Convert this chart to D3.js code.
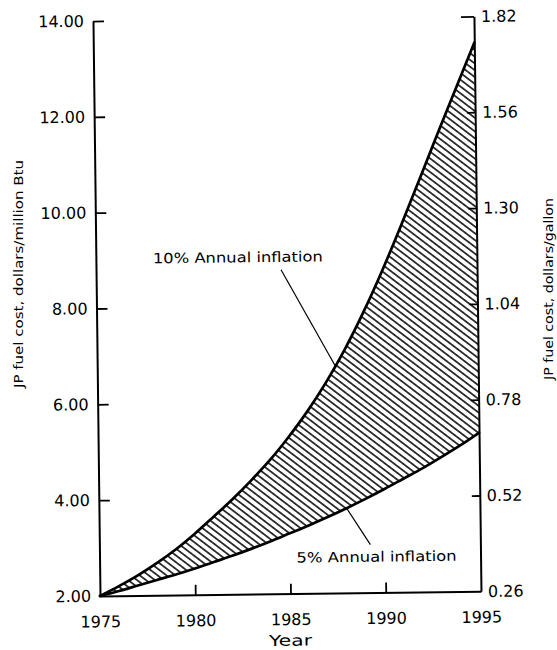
<!DOCTYPE html>
<html>
<head>
<meta charset="utf-8">
<script src="https://cdn.jsdelivr.net/npm/d3@7"></script>
<style>
  body { margin: 0; background: #fff; }
  text { font-family: "DejaVu Sans", sans-serif; fill: #000; }
</style>
</head>
<body>
<svg id="chart" width="557" height="650"></svg>
<script>
// Projected JP fuel cost, dollars per million Btu
const years = [1975, 1976, 1977, 1978, 1979, 1980, 1981, 1982, 1983, 1984, 1985,
               1986, 1987, 1988, 1989, 1990, 1991, 1992, 1993, 1994, 1995];
const inflation10 = [2.00, 2.20, 2.42, 2.67, 2.95, 3.27, 3.62, 3.98, 4.37, 4.79, 5.27,
                     5.80, 6.40, 7.08, 7.85, 8.70, 9.62, 10.58, 11.55, 12.50, 13.45];
const inflation5  = [2.00, 2.10, 2.21, 2.32, 2.43, 2.55, 2.68, 2.81, 2.95, 3.10, 3.26,
                     3.42, 3.59, 3.77, 3.96, 4.16, 4.37, 4.58, 4.81, 5.05, 5.31];

const yearTicks   = [1975, 1980, 1985, 1990, 1995];
const btuTicks    = [2, 4, 6, 8, 10, 12, 14];
const gallonTicks = [0.26, 0.52, 0.78, 1.04, 1.30, 1.56, 1.82];

const labelHigh = "10% Annual inflation";
const labelLow  = "5% Annual inflation";
const xTitle = "Year";
const yTitleLeft  = "JP fuel cost, dollars/million Btu";
const yTitleRight = "JP fuel cost, dollars/gallon";

const rows = years.map((yr, i) => ({ year: yr, high: inflation10[i], low: inflation5[i] }));

const svg = d3.select("#chart");
const W = 381, H = 575;

// hatch pattern for the band between the two projections
const defs = svg.append("defs");
defs.append("pattern")
    .attr("id", "hatch")
    .attr("patternUnits", "userSpaceOnUse")
    .attr("width", 20).attr("height", 5.4)
    .attr("patternTransform", "rotate(38)")
  .append("line")
    .attr("x1", 0).attr("x2", 20)
    .attr("y1", 2.7).attr("y2", 2.7)
    .attr("stroke", "#000").attr("stroke-width", 1.5);

// plot frame, origin at the lower-left corner, slightly tilted like the printed sheet
const g = svg.append("g").attr("transform", "translate(100,596) rotate(-0.7)");

const x  = d3.scaleLinear().domain([1975, 1995]).range([0, W]);
const y  = d3.scaleLinear().domain([2, 14]).range([0, -H]);
const yr = d3.scaleLinear().domain([0.26, 1.82]).range([0, -H]);

// shaded band
g.append("path")
  .datum(rows)
  .attr("fill", "url(#hatch)")
  .attr("d", d3.area()
      .x(d => x(d.year)).y0(d => y(d.low)).y1(d => y(d.high))
      .curve(d3.curveMonotoneX));

// the two inflation curves
const line = key => d3.line().x(d => x(d.year)).y(d => y(d[key])).curve(d3.curveMonotoneX);
["high", "low"].forEach(k => {
  g.append("path").datum(rows)
    .attr("fill", "none").attr("stroke", "#000")
    .attr("stroke-width", 2.7).attr("stroke-linejoin", "round").attr("stroke-linecap", "round")
    .attr("d", line(k));
});

function styleAxis(sel, size) {
  sel.select(".domain").attr("stroke", "#000").attr("stroke-width", 2);
  sel.selectAll(".tick line").attr("stroke", "#000").attr("stroke-width", 1.8);
  sel.selectAll(".tick text").style("font-family", "'DejaVu Sans', sans-serif")
     .style("font-size", size + "px").attr("fill", "#000");
  sel.attr("font-family", null).attr("font-size", null);
}

// left axis: dollars per million Btu
const axL = g.append("g").call(
  d3.axisLeft(y).tickValues(btuTicks).tickFormat(d3.format(".2f"))
    .tickSizeInner(-11).tickSizeOuter(0).tickPadding(9));
styleAxis(axL, 16);
axL.selectAll(".tick").filter(d => d === 2).select("line").remove();

// right axis: dollars per gallon
const axR = g.append("g").attr("transform", `translate(${W},0)`).call(
  d3.axisRight(yr).tickValues(gallonTicks).tickFormat(d3.format(".2f"))
    .tickSizeInner(-8).tickSizeOuter(0).tickPadding(7));
styleAxis(axR, 16);
axR.selectAll(".tick").filter(d => d === 0.26).select("line").remove();
axR.selectAll(".tick").filter(d => d === 1.82).select("line").attr("x2", -13);

// bottom axis: year
const axB = g.append("g").call(
  d3.axisBottom(x).tickValues(yearTicks).tickFormat(d3.format("d"))
    .tickSizeInner(-10).tickSizeOuter(0).tickPadding(20));
styleAxis(axB, 16);
axB.selectAll(".tick").filter(d => d === 1975 || d === 1995).select("line").remove();

// axis title
g.append("text").attr("x", 190).attr("y", 52).attr("text-anchor", "middle")
  .style("font-size", "15px").attr("textLength", 43).attr("lengthAdjust", "spacingAndGlyphs")
  .text(xTitle);

// annotations with leader lines to the curves
function valueAt(arr, yr) {
  const i = Math.floor(yr - years[0]);
  const t = yr - years[i];
  return arr[i] + (arr[i + 1] - arr[i]) * t;
}
g.append("text").attr("x", 57).attr("y", -332)
  .style("font-size", "14px").attr("textLength", 170).attr("lengthAdjust", "spacingAndGlyphs")
  .text(labelHigh);
g.append("line")
  .attr("x1", 185).attr("y1", -324)
  .attr("x2", x(1987.5)).attr("y2", y(valueAt(inflation10, 1987.5)))
  .attr("stroke", "#000").attr("stroke-width", 1.2);

g.append("text").attr("x", 197).attr("y", -31)
  .style("font-size", "14px").attr("textLength", 160).attr("lengthAdjust", "spacingAndGlyphs")
  .text(labelLow);
g.append("line")
  .attr("x1", 271).attr("y1", -48)
  .attr("x2", x(1988)).attr("y2", y(valueAt(inflation5, 1988)))
  .attr("stroke", "#000").attr("stroke-width", 1.2);

// vertical axis titles
svg.append("text").attr("transform", "translate(23,274) rotate(-90)")
  .attr("text-anchor", "middle").style("font-size", "13px")
  .attr("textLength", 228).attr("lengthAdjust", "spacingAndGlyphs")
  .text(yTitleLeft);
svg.append("text").attr("transform", "translate(553,289) rotate(-90)")
  .attr("text-anchor", "middle").style("font-size", "13px")
  .attr("textLength", 182).attr("lengthAdjust", "spacingAndGlyphs")
  .text(yTitleRight);
</script>
</body>
</html>
